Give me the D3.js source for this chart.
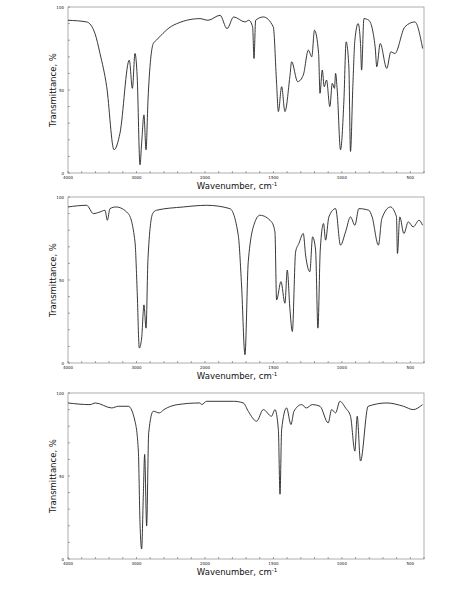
<!DOCTYPE html>
<html>
<head>
<meta charset="utf-8">
<script src="https://cdn.jsdelivr.net/npm/d3@7.9.0/dist/d3.min.js"></script>
<style>
  body { margin: 0; background: #fff; }
  text { font-family: "DejaVu Sans", sans-serif; fill: #111; }
</style>
</head>
<body>
<svg id="chart" width="474" height="599"></svg>
<script>
// wavenumber (cm-1) and transmittance (%)
const wn1 = [4000,3727,3606,3533,3435,3328,3241,3105,3060,3022,2990,2949,2925,2891,2861,2832,2755,2710,2463,2073,1978,1890,1839,1790,1708,1680,1652,1642,1630,1574,1501,1477,1464,1440,1416,1380,1367,1323,1282,1245,1220,1200,1170,1160,1143,1129,1112,1088,1070,1054,1046,1034,1010,985,969,949,937,920,905,881,864,856,839,803,757,745,720,672,642,613,540,467,410];
const t1  = [92,91,84,72,52,14,24,68,51,72,58,5,18,35,14,44,78,80,89,93,92,95,87,94,91,92,88,69,92,94,88,54,37,52,37,58,67,55,59,74,70,86,72,48,62,52,56,40,54,51,60,50,14,44,79,64,13,52,80,90,78,62,93,92,76,64,78,63,73,72,88,91,75];

const wn2 = [4000,3727,3630,3533,3460,3426,3387,3300,3120,3022,2990,2959,2925,2891,2861,2832,2764,2710,2316,1988,1818,1757,1733,1708,1684,1635,1599,1514,1489,1477,1445,1416,1399,1380,1362,1338,1314,1282,1265,1234,1214,1192,1175,1158,1134,1119,1095,1046,1010,973,937,905,876,803,779,733,708,645,601,594,577,547,515,479,436,411];
const t2  = [94,95,90,91,92,86,93,94,90,73,43,9,15,35,21,63,90,92,94,95,93,77,47,5,61,85,89,85,79,38,49,36,56,33,19,67,72,78,65,55,76,68,21,68,84,74,88,93,71,79,88,83,93,92,88,71,87,94,88,66,88,78,85,82,86,83];

const wn3 = [4000,3679,3600,3362,3265,3120,3022,2973,2949,2925,2900,2881,2852,2822,2755,2667,2600,2400,2073,2049,1988,1791,1720,1684,1623,1574,1514,1489,1464,1452,1440,1404,1372,1350,1294,1260,1216,1160,1100,1075,1046,1015,973,937,905,888,864,808,672,550,479,411];
const t3  = [94,93,94,91,92,92,83,65,22,6,39,63,20,76,89,88,90,93,94,93,95,95,94,89,83,90,86,90,78,39,78,91,81,89,93,91,93,92,82,90,88,95,91,86,65,86,59,92,94,92,90,93];

const spectra = [[wn1, t1], [wn2, t2], [wn3, t3]];
const panelTops = [7, 197, 393];
const xLabels = [4000, 3000, 2000, 1500, 1000, 500];

const svg = d3.select('#chart');
const plotH = 166;

// x axis is compressed above 2000 cm-1
const x = d3.scaleLinear().domain([4000, 2000, 400]).range([68, 205, 424]);

let minorX = d3.range(4000, 2000, -200).concat(d3.range(2000, 399, -100));

spectra.forEach(([wn, tr], i) => {
  const top = panelTops[i];
  const y = d3.scaleLinear().domain([0, 100]).range([top + plotH, top]);
  const g = svg.append('g');

  g.append('rect')
    .attr('x', 68).attr('y', top)
    .attr('width', 424 - 68).attr('height', plotH)
    .attr('fill', 'none').attr('stroke', '#999').attr('stroke-width', 0.8);

  // bottom ticks
  g.selectAll('.mx').data(minorX).enter().append('line')
    .attr('x1', d => x(d)).attr('x2', d => x(d))
    .attr('y1', top + plotH).attr('y2', top + plotH - 2)
    .attr('stroke', '#666').attr('stroke-width', 0.6);
  g.selectAll('.lx').data(xLabels).enter().append('text')
    .attr('x', d => x(d)).attr('y', top + plotH + 6)
    .attr('text-anchor', 'middle').attr('font-size', 4)
    .text(d => d);

  // left ticks
  g.selectAll('.my').data(d3.range(0, 101, 10)).enter().append('line')
    .attr('x1', 68).attr('x2', 70)
    .attr('y1', d => y(d)).attr('y2', d => y(d))
    .attr('stroke', '#666').attr('stroke-width', 0.6);
  g.selectAll('.ly').data([0, 50, 100]).enter().append('text')
    .attr('x', 64).attr('y', d => y(d) + 1.5)
    .attr('text-anchor', 'end').attr('font-size', 4)
    .text(d => d);

  g.append('text')
    .attr('transform', `translate(56,${top + plotH / 2}) rotate(-90)`)
    .attr('text-anchor', 'middle').attr('font-size', 8.5)
    .text('Transmittance, %');
  g.append('text')
    .attr('x', 237).attr('y', top + plotH + 16)
    .attr('text-anchor', 'middle').attr('font-size', 8.5)
    .html('Wavenumber, cm<tspan dy="-3" font-size="5.5">-1</tspan>');

  const pts = wn.map((w, k) => [w, tr[k]]);
  const line = d3.line()
    .x(d => x(d[0])).y(d => y(d[1]))
    .curve(d3.curveMonotoneX);
  g.append('path')
    .attr('d', line(pts))
    .attr('fill', 'none').attr('stroke', '#222').attr('stroke-width', 0.9);
});
</script>
</body>
</html>
